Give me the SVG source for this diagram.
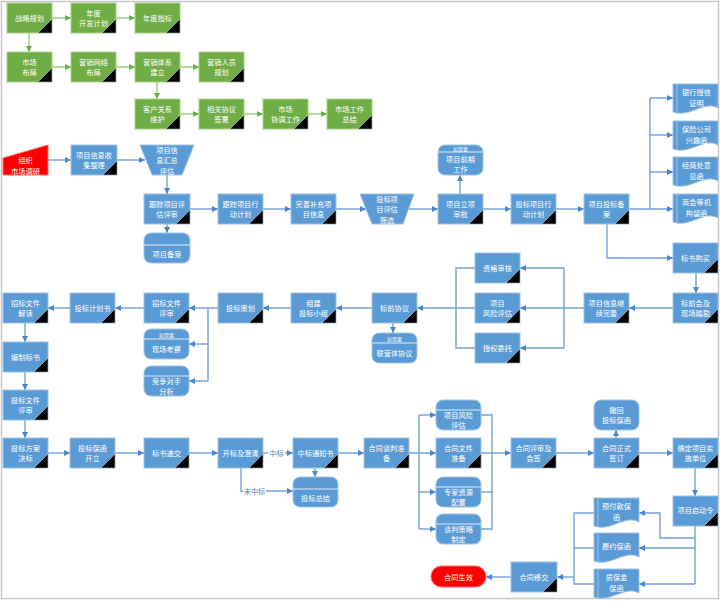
<svg xmlns="http://www.w3.org/2000/svg" width="720" height="601" viewBox="0 0 720 601">
<style>
.g{fill:#70AD47;stroke:#A9D18E;stroke-width:1}
.b{fill:#5B9BD5;stroke:#9DC3E6;stroke-width:1}
.r{fill:#FF0000;stroke:#FF6666;stroke-width:1}
.tri{fill:#000;stroke:#d9d9d9;stroke-width:0.5}
.dv{stroke:#DDEBF7;stroke-width:1;fill:none}
.st{stroke:#9DC3E6;stroke-width:1;fill:none}
text{font-family:"Noto Sans CJK SC","Noto Sans",sans-serif;font-size:7.2px;fill:#fff;text-anchor:middle;dominant-baseline:central}
text.h{font-size:5px}
text.lb{fill:#5a7fa8}
.cb{stroke:#6FA0D8;stroke-width:1.4;fill:none}
.cg{stroke:#A9D18E;stroke-width:1.6;fill:none}
</style>
<defs>
<marker id="ab" markerWidth="6" markerHeight="6" refX="6" refY="3" orient="auto" markerUnits="userSpaceOnUse"><path d="M0,0 L6,3 L0,6 Z" fill="#4A86C8"/></marker>
<marker id="ag" markerWidth="6" markerHeight="6" refX="6" refY="3" orient="auto" markerUnits="userSpaceOnUse"><path d="M0,0 L6,3 L0,6 Z" fill="#70AD47"/></marker>
</defs>
<rect x="1.5" y="1.5" width="717" height="597" fill="#fff" stroke="#c8c8c8" stroke-width="1.5"/>

<g id="connectors">
<g class="cg" marker-end="url(#ag)">
<path d="M52,18 H71"/><path d="M116,18 H135"/><path d="M29,33 V52"/>
<path d="M52,67 H71"/><path d="M116,67 H135"/><path d="M180,67 H199"/>
<path d="M157,82 V99"/><path d="M180,114 H199"/><path d="M244,114 H263"/><path d="M308,114 H327"/>
</g>
<g class="cb">
<path d="M48,160 H71" marker-end="url(#ab)"/>
<path d="M117,160 H145" marker-end="url(#ab)"/>
<path d="M167,175 V194" marker-end="url(#ab)"/>
<path d="M167,224 V233" marker-end="url(#ab)"/>
<path d="M190,209 H218" marker-end="url(#ab)"/>
<path d="M263,209 H291" marker-end="url(#ab)"/>
<path d="M336,209 H366" marker-end="url(#ab)"/>
<path d="M409,209 H438" marker-end="url(#ab)"/>
<path d="M460,194 V175" marker-end="url(#ab)"/>
<path d="M483,209 H511" marker-end="url(#ab)"/>
<path d="M556,209 H584" marker-end="url(#ab)"/>
<path d="M629,209 H673" marker-end="url(#ab)"/>
<path d="M650,209 V98"/>
<path d="M650,98 H673" marker-end="url(#ab)"/>
<path d="M650,135 H673" marker-end="url(#ab)"/>
<path d="M650,172 H673" marker-end="url(#ab)"/>
<path d="M607,224 V258 H673" marker-end="url(#ab)"/>
<path d="M696,273 V293" marker-end="url(#ab)"/>
<path d="M673,308 H629" marker-end="url(#ab)"/>
<path d="M584,308 H520" marker-end="url(#ab)"/>
<path d="M564,268 V348"/>
<path d="M564,268 H520" marker-end="url(#ab)"/>
<path d="M564,348 H520" marker-end="url(#ab)"/>
<path d="M475,268 H456 V348 H475"/>
<path d="M475,308 H417" marker-end="url(#ab)"/>
<path d="M393,323 V333" marker-end="url(#ab)"/>
<path d="M372,308 H336" marker-end="url(#ab)"/>
<path d="M291,308 H263" marker-end="url(#ab)"/>
<path d="M218,308 H189" marker-end="url(#ab)"/>
<path d="M208,308 V381"/>
<path d="M208,344 H189" marker-end="url(#ab)"/>
<path d="M208,381 H189" marker-end="url(#ab)"/>
<path d="M144,308 H115" marker-end="url(#ab)"/>
<path d="M70,308 H48" marker-end="url(#ab)"/>
<path d="M25,323 V342" marker-end="url(#ab)"/>
<path d="M25,372 V390" marker-end="url(#ab)"/>
<path d="M25,420 V438" marker-end="url(#ab)"/>
<path d="M48,453 H70" marker-end="url(#ab)"/>
<path d="M115,453 H144" marker-end="url(#ab)"/>
<path d="M189,453 H218" marker-end="url(#ab)"/>
<path d="M263,453 H293" marker-end="url(#ab)"/>
<path d="M241,468 V491 H293" marker-end="url(#ab)"/>
<path d="M315,468 V477" marker-end="url(#ab)"/>
<path d="M338,453 H364" marker-end="url(#ab)"/>
<path d="M409,453 H436" marker-end="url(#ab)"/>
<path d="M419,415 V529"/>
<path d="M419,415 H436" marker-end="url(#ab)"/>
<path d="M419,492 H436" marker-end="url(#ab)"/>
<path d="M419,529 H436" marker-end="url(#ab)"/>
<path d="M481,415 H492 V529 H481"/>
<path d="M481,492 H492"/>
<path d="M481,453 H511" marker-end="url(#ab)"/>
<path d="M556,453 H594" marker-end="url(#ab)"/>
<path d="M616,438 V430" marker-end="url(#ab)"/>
<path d="M639,453 H673" marker-end="url(#ab)"/>
<path d="M695,468 V496" marker-end="url(#ab)"/>
<path d="M695,526 V584"/>
<path d="M695,538 H660 V513 H639" marker-end="url(#ab)"/>
<path d="M695,548 H639" marker-end="url(#ab)"/>
<path d="M695,584 H639" marker-end="url(#ab)"/>
<path d="M594,513 H574 V584 H594"/>
<path d="M594,548 H574"/>
<path d="M574,577 H557" marker-end="url(#ab)"/>
<path d="M511,577 H486" marker-end="url(#ab)"/>
</g>
<rect x="268" y="448" width="17" height="10" fill="#fff"/>
<text class="lb" x="276.5" y="453">中标</text>
<rect x="243" y="486" width="23" height="10" fill="#fff"/>
<text class="lb" x="254.5" y="491">未中标</text>
</g>

<!-- green nodes -->
<g id="g1"><rect class="g" x="7" y="3" width="45" height="30"/><polygon class="tri" points="38,33 52,19 52,33"/><text x="29.5" y="17.5">战略规划</text></g>
<g id="g2"><rect class="g" x="71" y="3" width="45" height="30"/><polygon class="tri" points="102,33 116,19 116,33"/><text><tspan x="93.5" y="12.5">年度</tspan><tspan x="93.5" y="23">开发计划</tspan></text></g>
<g id="g3"><rect class="g" x="135" y="3" width="45" height="30"/><polygon class="tri" points="166,33 180,19 180,33"/><text x="157.5" y="17.5">年度指标</text></g>
<g id="g4"><rect class="g" x="7" y="52" width="45" height="30"/><polygon class="tri" points="38,82 52,68 52,82"/><text><tspan x="29.5" y="61.5">市场</tspan><tspan x="29.5" y="72">布局</tspan></text></g>
<g id="g5"><rect class="g" x="71" y="52" width="45" height="30"/><polygon class="tri" points="102,82 116,68 116,82"/><text><tspan x="93.5" y="61.5">营销网络</tspan><tspan x="93.5" y="72">布局</tspan></text></g>
<g id="g6"><rect class="g" x="135" y="52" width="45" height="30"/><polygon class="tri" points="166,82 180,68 180,82"/><text><tspan x="157.5" y="61.5">营销体系</tspan><tspan x="157.5" y="72">建立</tspan></text></g>
<g id="g7"><rect class="g" x="199" y="52" width="45" height="30"/><polygon class="tri" points="230,82 244,68 244,82"/><text><tspan x="221.5" y="61.5">营销人员</tspan><tspan x="221.5" y="72">规划</tspan></text></g>
<g id="g8"><rect class="g" x="135" y="99" width="45" height="30"/><polygon class="tri" points="166,129 180,115 180,129"/><text><tspan x="157.5" y="108.5">客户关系</tspan><tspan x="157.5" y="119">维护</tspan></text></g>
<g id="g9"><rect class="g" x="199" y="99" width="45" height="30"/><polygon class="tri" points="230,129 244,115 244,129"/><text><tspan x="221.5" y="108.5">相关协议</tspan><tspan x="221.5" y="119">签署</tspan></text></g>
<g id="g10"><rect class="g" x="263" y="99" width="45" height="30"/><polygon class="tri" points="294,129 308,115 308,129"/><text><tspan x="285.5" y="108.5">市场</tspan><tspan x="285.5" y="119">协调工作</tspan></text></g>
<g id="g11"><rect class="g" x="327" y="99" width="45" height="30"/><polygon class="tri" points="358,129 372,115 372,129"/><text><tspan x="349.5" y="108.5">市场工作</tspan><tspan x="349.5" y="119">总结</tspan></text></g>

<!-- blue section -->
<g id="n-zzdy"><polygon class="r" points="3,158 48,145 48,175 3,175"/><text><tspan x="25.5" y="160">组织</tspan><tspan x="25.5" y="170.5">市场调研</tspan></text></g>
<g id="n-xxsj"><rect class="b" x="71" y="145" width="46" height="30"/><polygon class="tri" points="103,175 117,161 117,175"/><text><tspan x="94" y="154.5">项目信息收</tspan><tspan x="94" y="165">集整理</tspan></text></g>
<g id="n-hzpg"><polygon class="b" points="140,145 194,145 182,175 152,175"/><text><tspan x="167" y="149.5">项目信</tspan><tspan x="167" y="160">息汇总</tspan><tspan x="167" y="170.5">评估</tspan></text></g>
<g id="n-gzpg"><rect class="b" x="144" y="194" width="46" height="30"/><polygon class="tri" points="176,224 190,210 190,224"/><text><tspan x="167" y="203.5">跟踪项目评</tspan><tspan x="167" y="214">估评审</tspan></text></g>
<g id="n-xmba"><rect class="b" x="144" y="233" width="46" height="30" rx="7"/><line class="dv" x1="144" y1="245" x2="190" y2="245"/><text x="167" y="254">项目备案</text></g>
<g id="n-gzxd"><rect class="b" x="218" y="194" width="45" height="30"/><polygon class="tri" points="249,224 263,210 263,224"/><text><tspan x="240.5" y="203.5">跟踪项目行</tspan><tspan x="240.5" y="214">动计划</tspan></text></g>
<g id="n-wsbc"><rect class="b" x="291" y="194" width="45" height="30"/><polygon class="tri" points="322,224 336,210 336,224"/><text><tspan x="313.5" y="203.5">完善补充项</tspan><tspan x="313.5" y="214">目信息</tspan></text></g>
<g id="n-tbsx"><polygon class="b" points="360,194 414,194 403,224 372,224"/><text><tspan x="387" y="198.5">投标项</tspan><tspan x="387" y="209">目评估</tspan><tspan x="387" y="219.5">筛选</tspan></text></g>
<g id="n-qqgz"><rect class="b" x="438" y="145" width="45" height="30" rx="7"/><line class="dv" x1="438" y1="152" x2="483" y2="152"/><text class="h" x="460.5" y="148.5">如需要</text><text><tspan x="460.5" y="158.5">项目前期</tspan><tspan x="460.5" y="169">工作</tspan></text></g>
<g id="n-lxsp"><rect class="b" x="438" y="194" width="45" height="30"/><polygon class="tri" points="469,224 483,210 483,224"/><text><tspan x="460.5" y="203.5">项目立项</tspan><tspan x="460.5" y="214">审批</tspan></text></g>
<g id="n-tbxd"><rect class="b" x="511" y="194" width="45" height="30"/><polygon class="tri" points="542,224 556,210 556,224"/><text><tspan x="533.5" y="203.5">投标项目行</tspan><tspan x="533.5" y="214">动计划</tspan></text></g>
<g id="n-tbba"><rect class="b" x="584" y="194" width="45" height="30"/><polygon class="tri" points="615,224 629,210 629,224"/><text><tspan x="606.5" y="203.5">项目投标备</tspan><tspan x="606.5" y="214">案</tspan></text></g>

<g id="d-yhsx"><path class="b" d="M673,84 H718 V108 C704,100 690,118 673,112 Z"/><line class="st" x1="677" y1="84" x2="677" y2="112"/><text><tspan x="696.5" y="92">银行授信</tspan><tspan x="696.5" y="102.5">证明</tspan></text></g>
<g id="d-bxgs"><path class="b" d="M673,121 H718 V145 C704,137 690,155 673,149 Z"/><line class="st" x1="677" y1="121" x2="677" y2="149"/><text><tspan x="696.5" y="129">保险公司</tspan><tspan x="696.5" y="139.5">兴趣函</tspan></text></g>
<g id="d-jsc"><path class="b" d="M673,157 H718 V181 C704,173 690,191 673,185 Z"/><line class="st" x1="677" y1="157" x2="677" y2="185"/><text><tspan x="696.5" y="165">经商处意</tspan><tspan x="696.5" y="175.5">见函</tspan></text></g>
<g id="d-shdj"><path class="b" d="M673,194 H718 V218 C704,210 690,228 673,222 Z"/><line class="st" x1="677" y1="194" x2="677" y2="222"/><text><tspan x="696.5" y="202">商会等机</tspan><tspan x="696.5" y="212.5">构留函</tspan></text></g>

<g id="n-bsgm"><rect class="b" x="673" y="243" width="45" height="30"/><polygon class="tri" points="704,273 718,259 718,273"/><text x="695.5" y="257.5">标书购买</text></g>
<g id="n-bqh"><rect class="b" x="673" y="293" width="45" height="30"/><polygon class="tri" points="704,323 718,309 718,323"/><text><tspan x="695.5" y="302.5">标前会及</tspan><tspan x="695.5" y="313">现场踏勘</tspan></text></g>
<g id="n-jxws"><rect class="b" x="584" y="293" width="45" height="30"/><polygon class="tri" points="615,323 629,309 629,323"/><text><tspan x="606.5" y="302.5">项目信息继</tspan><tspan x="606.5" y="313">续完善</tspan></text></g>
<g id="n-zgsh"><rect class="b" x="475" y="253" width="45" height="30"/><polygon class="tri" points="506,283 520,269 520,283"/><text x="497.5" y="267.5">资格审核</text></g>
<g id="n-fxpg"><rect class="b" x="475" y="293" width="45" height="30"/><polygon class="tri" points="506,323 520,309 520,323"/><text><tspan x="497.5" y="302.5">项目</tspan><tspan x="497.5" y="313">风险评估</tspan></text></g>
<g id="n-sqwt"><rect class="b" x="475" y="333" width="45" height="30"/><polygon class="tri" points="506,363 520,349 520,363"/><text x="497.5" y="347.5">授权委托</text></g>
<g id="n-bqxy"><rect class="b" x="372" y="293" width="45" height="30"/><polygon class="tri" points="403,323 417,309 417,323"/><text x="394.5" y="307.5">标前协议</text></g>
<g id="n-lyt"><rect class="b" x="372" y="333" width="45" height="30" rx="7"/><line class="dv" x1="372" y1="343" x2="417" y2="343"/><text class="h" x="394.5" y="338">如需要</text><text x="394.5" y="353">联营体协议</text></g>
<g id="n-zjxz"><rect class="b" x="291" y="293" width="45" height="30"/><polygon class="tri" points="322,323 336,309 336,323"/><text><tspan x="313.5" y="302.5">组建</tspan><tspan x="313.5" y="313">投标小组</tspan></text></g>
<g id="n-tbch"><rect class="b" x="218" y="293" width="45" height="30"/><polygon class="tri" points="249,323 263,309 263,323"/><text x="240.5" y="307.5">投标策划</text></g>
<g id="n-zbps"><rect class="b" x="144" y="293" width="45" height="30"/><polygon class="tri" points="175,323 189,309 189,323"/><text><tspan x="166.5" y="302.5">招标文件</tspan><tspan x="166.5" y="313">评审</tspan></text></g>
<g id="n-xckc"><rect class="b" x="144" y="329" width="45" height="30" rx="7"/><line class="dv" x1="144" y1="339" x2="189" y2="339"/><text class="h" x="166.5" y="334">如需要</text><text x="166.5" y="349">现场考察</text></g>
<g id="n-jzds"><rect class="b" x="144" y="366" width="45" height="30" rx="7"/><line class="dv" x1="144" y1="376" x2="189" y2="376"/><text><tspan x="166.5" y="380.5">竞争对手</tspan><tspan x="166.5" y="391">分析</tspan></text></g>
<g id="n-jhs"><rect class="b" x="70" y="293" width="45" height="30"/><polygon class="tri" points="101,323 115,309 115,323"/><text x="92.5" y="307.5">投标计划书</text></g>
<g id="n-jd"><rect class="b" x="3" y="293" width="45" height="30"/><polygon class="tri" points="34,323 48,309 48,323"/><text><tspan x="25.5" y="302.5">招标文件</tspan><tspan x="25.5" y="313">解读</tspan></text></g>
<g id="n-bzbs"><rect class="b" x="3" y="342" width="45" height="30"/><polygon class="tri" points="34,372 48,358 48,372"/><text x="25.5" y="356.5">编制标书</text></g>
<g id="n-wjps"><rect class="b" x="3" y="390" width="45" height="30"/><polygon class="tri" points="34,420 48,406 48,420"/><text><tspan x="25.5" y="399.5">投标文件</tspan><tspan x="25.5" y="410">评审</tspan></text></g>
<g id="n-jb"><rect class="b" x="3" y="438" width="45" height="30"/><polygon class="tri" points="34,468 48,454 48,468"/><text><tspan x="25.5" y="447.5">投标方案</tspan><tspan x="25.5" y="458">决标</tspan></text></g>
<g id="n-bhkl"><rect class="b" x="70" y="438" width="45" height="30"/><polygon class="tri" points="101,468 115,454 115,468"/><text><tspan x="92.5" y="447.5">投标保函</tspan><tspan x="92.5" y="458">开立</tspan></text></g>
<g id="n-bsdj"><rect class="b" x="144" y="438" width="45" height="30"/><polygon class="tri" points="175,468 189,454 189,468"/><text x="166.5" y="452.5">标书递交</text></g>
<g id="n-kbcq"><rect class="b" x="218" y="438" width="45" height="30"/><polygon class="tri" points="249,468 263,454 263,468"/><text x="240.5" y="452.5">开标及澄清</text></g>
<g id="n-zbtz"><rect class="b" x="293" y="438" width="45" height="30"/><polygon class="tri" points="324,468 338,454 338,468"/><text x="315.5" y="452.5">中标通知书</text></g>
<g id="n-tbzj"><rect class="b" x="293" y="477" width="45" height="30" rx="7"/><line class="dv" x1="293" y1="489" x2="338" y2="489"/><text x="315.5" y="498">投标总结</text></g>
<g id="n-htzb"><rect class="b" x="364" y="438" width="45" height="30"/><polygon class="tri" points="395,468 409,454 409,468"/><text><tspan x="386.5" y="447.5">合同谈判准</tspan><tspan x="386.5" y="458">备</tspan></text></g>
<g id="n-xmfx"><rect class="b" x="436" y="400" width="45" height="30" rx="7"/><line class="dv" x1="436" y1="410" x2="481" y2="410"/><text><tspan x="458.5" y="414.5">项目风险</tspan><tspan x="458.5" y="425">评估</tspan></text></g>
<g id="n-htwj"><rect class="b" x="436" y="438" width="45" height="30"/><polygon class="tri" points="467,468 481,454 481,468"/><text><tspan x="458.5" y="447.5">合同文件</tspan><tspan x="458.5" y="458">准备</tspan></text></g>
<g id="n-zjzy"><rect class="b" x="436" y="477" width="45" height="30" rx="7"/><line class="dv" x1="436" y1="487" x2="481" y2="487"/><text><tspan x="458.5" y="491.5">专家资源</tspan><tspan x="458.5" y="502">配置</tspan></text></g>
<g id="n-tpcl"><rect class="b" x="436" y="514" width="45" height="30" rx="7"/><line class="dv" x1="436" y1="524" x2="481" y2="524"/><text><tspan x="458.5" y="528.5">谈判策略</tspan><tspan x="458.5" y="539">制定</tspan></text></g>
<g id="n-htps"><rect class="b" x="511" y="438" width="45" height="30"/><polygon class="tri" points="542,468 556,454 556,468"/><text><tspan x="533.5" y="447.5">合同评审及</tspan><tspan x="533.5" y="458">会签</tspan></text></g>
<g id="n-zsqd"><rect class="b" x="594" y="438" width="45" height="30"/><polygon class="tri" points="625,468 639,454 639,468"/><text><tspan x="616.5" y="447.5">合同正式</tspan><tspan x="616.5" y="458">签订</tspan></text></g>
<g id="n-chbh"><rect class="b" x="594" y="400" width="45" height="30" rx="7"/><text><tspan x="616.5" y="409.5">撤回</tspan><tspan x="616.5" y="420">投标保函</tspan></text></g>
<g id="n-ssdw"><rect class="b" x="673" y="438" width="45" height="30"/><polygon class="tri" points="704,468 718,454 718,468"/><text><tspan x="695.5" y="447.5">确定项目实</tspan><tspan x="695.5" y="458">施单位</tspan></text></g>
<g id="n-qdl"><rect class="b" x="673" y="496" width="45" height="30"/><polygon class="tri" points="704,526 718,512 718,526"/><text x="695.5" y="509.5">项目启动令</text></g>
<g id="d-yfk"><path class="b" d="M594,498 H639 V522 C625,514 611,532 594,526 Z"/><line class="st" x1="598" y1="498" x2="598" y2="526"/><text><tspan x="616.5" y="506">预付款保</tspan><tspan x="616.5" y="516.5">函</tspan></text></g>
<g id="d-ly"><path class="b" d="M594,533 H639 V557 C625,549 611,567 594,561 Z"/><line class="st" x1="598" y1="533" x2="598" y2="561"/><text x="616.5" y="546">履约保函</text></g>
<g id="d-zbj"><path class="b" d="M594,569 H639 V593 C625,585 611,603 594,597 Z"/><line class="st" x1="598" y1="569" x2="598" y2="597"/><text><tspan x="616.5" y="577">质保金</tspan><tspan x="616.5" y="587.5">保函</tspan></text></g>
<g id="n-htyj"><rect class="b" x="511" y="562" width="46" height="30"/><polygon class="tri" points="543,592 557,578 557,592"/><text x="534" y="576.5">合同移交</text></g>
<g id="n-htsx"><rect class="r" x="431" y="566" width="55" height="21" rx="10.5"/><text x="458.5" y="576.5">合同生效</text></g>
</svg>
